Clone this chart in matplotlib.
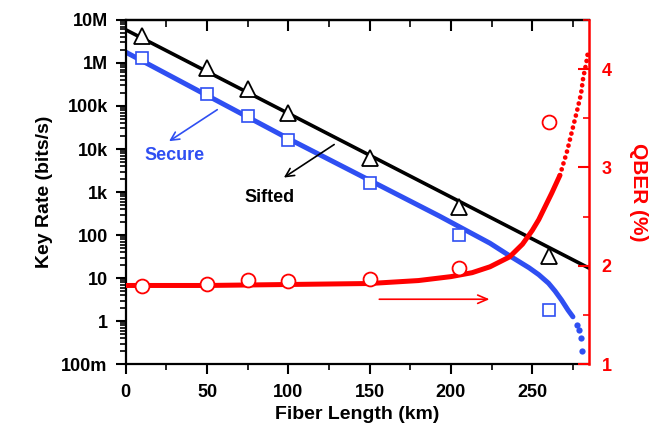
import matplotlib
matplotlib.use('Agg')
import matplotlib.pyplot as plt
from matplotlib.ticker import MultipleLocator, LogLocator, NullFormatter

plt.rcParams['font.family'] = ['Liberation Sans', 'DejaVu Sans']
plt.rcParams['font.weight'] = 'bold'

# measured points
dist_exp = [10, 50, 75, 100, 150, 205, 260]
sifted_exp = [4.3e6, 7.6e5, 2.5e5, 6.8e4, 6.3e3, 440, 32]
secure_exp = [1.3e6, 1.9e5, 5.9e4, 1.6e4, 1.6e3, 100, 1.8]
qber_exp = [1.79, 1.82, 1.86, 1.85, 1.87, 1.98, 3.46]

# theory curves
sifted_th_x = [0, 285]
sifted_th = [5.9e6, 17]
secure_th_x = [0, 100, 193, 224, 236, 248, 254, 260, 264, 268, 272, 275]
secure_th = [1.78e6, 1.74e4, 275, 64.6, 33.1, 17.4, 12.0, 7.6, 5.0, 3.09, 1.8, 1.26]
secure_tail_x = [277.6, 278.9, 280, 280.7]
secure_tail = [0.81, 0.62, 0.40, 0.20]
qber_th_x = [0, 50, 100, 150, 180, 200, 213, 224, 236, 244, 250, 254, 262, 267]
qber_th = [1.80, 1.80, 1.81, 1.82, 1.85, 1.89, 1.93, 1.99, 2.09, 2.22, 2.36, 2.47, 2.74, 2.92]
qber_tail_x = [267, 271.5, 274.6, 277.6, 280, 281.3, 283.2, 284.4]
qber_tail = [2.92, 3.17, 3.38, 3.58, 3.75, 3.91, 4.06, 4.19]

rate_ticks = [0.1, 1, 10, 100, 1e3, 1e4, 1e5, 1e6, 1e7]
rate_labels = ['100m', '1', '10', '100', '1k', '10k', '100k', '1M', '10M']

blue = '#2f4ff2'
red = '#ff0000'

fig = plt.figure(figsize=(6.62, 4.33), dpi=100)
ax = fig.add_axes([0.190, 0.159, 0.700, 0.795])

ax.plot(sifted_th_x, sifted_th, color='k', lw=2.6, zorder=2)
ax.plot(secure_th_x, secure_th, color=blue, lw=3.6, zorder=2, solid_capstyle='round')
ax.plot(secure_tail_x, secure_tail, 'o', color=blue, ms=4.5, mew=0, zorder=2)
ax.plot(dist_exp, sifted_exp, '^', ms=11, mfc='white', mec='k', mew=1.3, zorder=4)
ax.plot(dist_exp, secure_exp, 's', ms=9, mfc='white', mec=blue, mew=1.2, zorder=4)

ax.set_yscale('log')
ax.set_ylim(0.1, 1e7)
ax.set_xlim(0, 285)
ax.set_yticks(rate_ticks)
ax.set_yticklabels(rate_labels)
ax.yaxis.set_minor_locator(LogLocator(base=10, subs=range(2, 10), numticks=20))
ax.yaxis.set_minor_formatter(NullFormatter())
ax.xaxis.set_major_locator(MultipleLocator(50))
ax.xaxis.set_minor_locator(MultipleLocator(25))
ax.tick_params(axis='both', which='major', direction='out', length=7, width=1.5,
               labelsize=13, pad=6)
ax.tick_params(axis='both', which='minor', direction='out', length=4, width=1.2)
ax.tick_params(axis='x', which='major', pad=7)
for s in ['left', 'bottom', 'top']:
    ax.spines[s].set_linewidth(1.6)
ax.spines['right'].set_visible(False)

top = ax.secondary_xaxis('top')
top.xaxis.set_major_locator(MultipleLocator(50))
top.xaxis.set_minor_locator(MultipleLocator(25))
top.tick_params(which='major', direction='in', length=8, width=1.5, labeltop=False)
top.tick_params(which='minor', direction='in', length=5, width=1.2)
top.spines['top'].set_linewidth(1.6)

ax.set_xlabel('Fiber Length (km)', fontsize=14, fontweight='bold', labelpad=4)
ax.set_ylabel('Key Rate (bits/s)', fontsize=14, fontweight='bold', labelpad=6)

ax.annotate('', xy=(25.2, 1.4e4), xytext=(57.7, 8.9e4),
            arrowprops=dict(arrowstyle='->,head_length=0.6,head_width=0.3', color=blue, lw=1.2))
ax.text(30.1, 7.2e3, 'Secure', color=blue, fontsize=13, fontweight='bold', ha='center', va='center')
ax.annotate('', xy=(95.8, 2.0e3), xytext=(129.6, 1.38e4),
            arrowprops=dict(arrowstyle='->,head_length=0.6,head_width=0.3', color='k', lw=1.2))
ax.text(88.5, 760, 'Sifted', color='k', fontsize=13, fontweight='bold', ha='center', va='center')

ax2 = ax.twinx()
ax2.plot(qber_th_x, qber_th, color=red, lw=3.6, zorder=2, solid_capstyle='round')
ax2.plot(qber_tail_x, qber_tail, color=red, lw=3.4, ls=(0, (0.01, 1.3)),
         dash_capstyle='round', zorder=2)
ax2.plot(dist_exp, qber_exp, 'o', ms=10, mfc='white', mec=red, mew=1.3, zorder=4)
ax2.annotate('', xy=(225.4, 1.66), xytext=(154.2, 1.66),
             arrowprops=dict(arrowstyle='->,head_length=0.7,head_width=0.3', color=red, lw=1.2))
ax2.set_ylim(1, 4.5)
ax2.yaxis.set_major_locator(MultipleLocator(1))
ax2.yaxis.set_minor_locator(MultipleLocator(0.5))
ax2.tick_params(axis='y', which='major', direction='in', length=8, width=1.5,
                colors=red, labelsize=13, pad=9)
ax2.tick_params(axis='y', which='minor', direction='in', length=4, width=1.2, colors=red)
for s in ['left', 'bottom', 'top']:
    ax2.spines[s].set_visible(False)
ax2.spines['right'].set_color(red)
ax2.spines['right'].set_linewidth(1.8)
ax2.set_ylabel('QBER (%)', fontsize=15, fontweight='bold', color=red, rotation=270, labelpad=26)

fig.savefig('out.png', dpi=100)
